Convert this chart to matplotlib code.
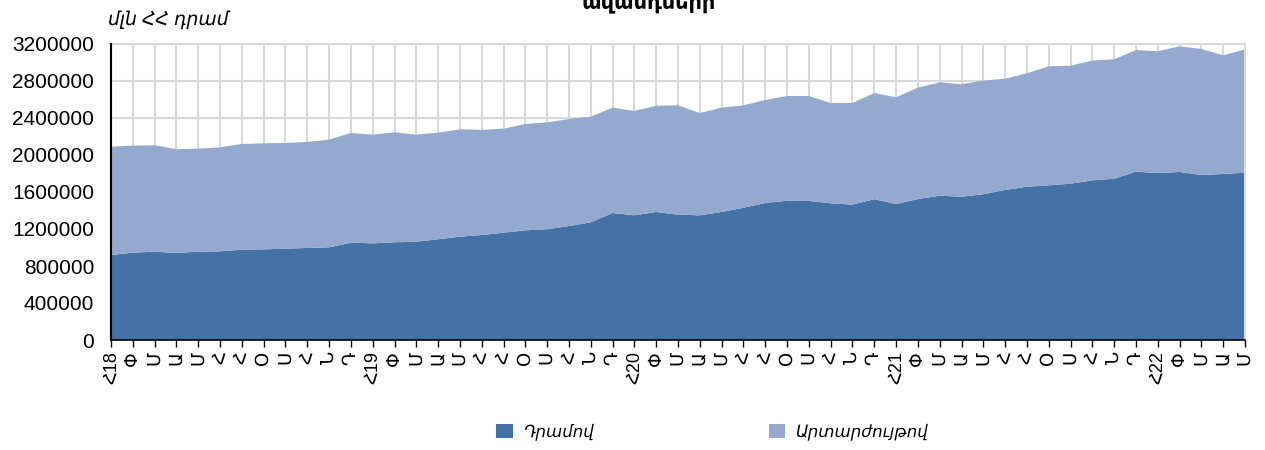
import matplotlib
matplotlib.use("Agg")
import matplotlib.pyplot as plt
import numpy as np

plt.rcParams['font.family'] = ['Liberation Sans', 'DejaVu Sans']

months = ["Հ", "Փ", "Մ", "Ա", "Մ", "Հ", "Հ", "Օ", "Ս", "Հ", "Ն", "Դ"]
years = ["18", "19", "20", "21", "22"]
n_points = 53
tick_labels = []
for i in range(n_points):
    m = months[i % 12]
    if i % 12 == 0:
        m = m + years[i // 12]
    tick_labels.append(m)

dram = [919000, 944000, 955000, 941000, 955000, 959000, 976000, 980000, 987000, 995000,
        1002000, 1052000, 1045000, 1056000, 1063000, 1089000, 1117000, 1135000, 1160000, 1186000,
        1197000, 1232000, 1272000, 1373000, 1348000, 1384000, 1355000, 1348000, 1384000, 1430000,
        1481000, 1506000, 1503000, 1478000, 1463000, 1522000, 1470000, 1524000, 1560000, 1549000,
        1575000, 1622000, 1657000, 1672000, 1690000, 1726000, 1744000, 1820000, 1805000, 1816000,
        1784000, 1795000, 1809000]
foreign = [1171000, 1157000, 1150000, 1121000, 1114000, 1124000, 1143000, 1146000, 1143000, 1146000,
           1164000, 1186000, 1175000, 1189000, 1157000, 1152000, 1161000, 1137000, 1125000, 1149000,
           1156000, 1157000, 1142000, 1139000, 1128000, 1149000, 1182000, 1106000, 1128000, 1107000,
           1114000, 1132000, 1135000, 1084000, 1099000, 1148000, 1154000, 1204000, 1226000, 1215000,
           1229000, 1203000, 1226000, 1287000, 1276000, 1294000, 1290000, 1315000, 1316000, 1359000,
           1362000, 1283000, 1333000]

series_names = ["Դրամով", "Արտարժույթով"]
colors = ["#4472a6", "#95a9cf"]
y_ticks = [0, 400000, 800000, 1200000, 1600000, 2000000, 2400000, 2800000, 3200000]

fig = plt.figure(figsize=(12.65, 4.5), dpi=100)
ax = fig.add_axes([111/1265, 1 - 340/450, (1245 - 111)/1265, (340 - 44)/450])

x = np.arange(len(dram))
ax.stackplot(x, dram, foreign, colors=colors, labels=series_names, linewidth=0, zorder=2)

ax.set_xlim(0, len(dram) - 1)
ax.set_ylim(0, 3200000)
ax.set_yticks(y_ticks)
ax.set_yticklabels([str(v) for v in y_ticks], fontsize=15)
ax.set_xticks(x)
ax.set_xticklabels(tick_labels, rotation=90, fontsize=13)

ax.grid(True, color="#d9d9d9", linewidth=1.5, zorder=0)
ax.set_axisbelow(True)
for s in ["top", "right"]:
    ax.spines[s].set_color("#d9d9d9")
    ax.spines[s].set_linewidth(1.5)
ax.spines["left"].set_color("black")
ax.spines["left"].set_linewidth(1.5)
ax.spines["bottom"].set_color("black")
ax.spines["bottom"].set_linewidth(1.2)
ax.spines["left"].set_zorder(5)
ax.spines["bottom"].set_zorder(5)
ax.tick_params(axis="y", length=0, pad=12)
ax.tick_params(axis="x", direction="out", length=5, width=1, color="black", pad=3)

fig.text(108/1265, 1 - 25/450, "մլն ՀՀ դրամ", fontsize=13.5, style="italic", ha="left", va="baseline")
fig.text(0.513, 1 - 8/450, "ավանդների", fontsize=15, fontweight="bold", ha="center", va="baseline")

handles, labels = ax.get_legend_handles_labels()
fig.legend(handles, labels, loc="center", bbox_to_anchor=(0.563, 1 - 432/450), ncol=2,
           frameon=False, prop={"style": "italic", "size": 12}, handlelength=1.0,
           handleheight=1.0, columnspacing=10.5, handletextpad=0.6)

fig.savefig("out.png", dpi=100)
